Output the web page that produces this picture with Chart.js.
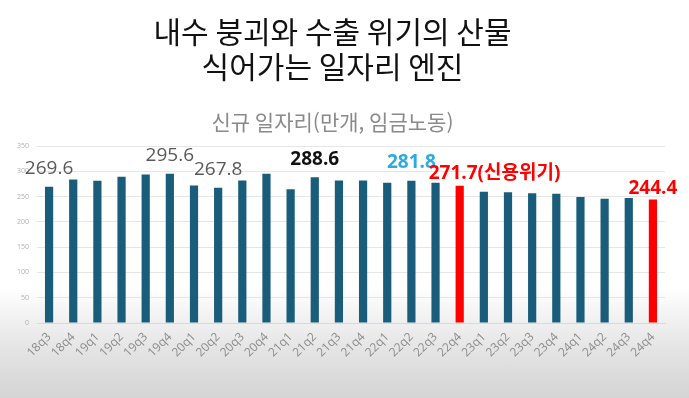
<!DOCTYPE html>
<html lang="ko">
<head>
<meta charset="utf-8">
<script src="https://cdn.jsdelivr.net/npm/chart.js@4.4.1/dist/chart.umd.min.js"></script>
<style>
  html, body { margin: 0; padding: 0; }
  body {
    width: 689px; height: 398px; overflow: hidden;
    background: linear-gradient(to bottom, #ffffff 0%, #ffffff 72%, #e4e4e4 88%, #d4d4d4 100%);
  }
  #wrap { position: relative; width: 689px; height: 398px; }
</style>
</head>
<body>
<div id="wrap"><canvas id="c"></canvas></div>
<script>
'use strict';
// 신규 일자리 (만개, 임금노동) by quarter.
const quarters = ['18q3','18q4','19q1','19q2','19q3','19q4','20q1','20q2','20q3','20q4',
  '21q1','21q2','21q3','21q4','22q1','22q2','22q3','22q4',
  '23q1','23q2','23q3','23q4','24q1','24q2','24q3','24q4'];
const jobs = [269.6, 284, 281.5, 289.4, 294, 295.6, 272.4, 267.8, 282, 295.3,
  264.6, 288.6, 282, 282, 277.6, 281.8, 277.6, 271.7,
  259.8, 258.7, 256.7, 256, 249.4, 246, 247.4, 244.4];
const redQuarters = ['22q4', '24q4'];
const yTicks = [0, 50, 100, 150, 200, 250, 300, 350];

// annotated values: which quarter, text, colour, bold
const noteQuarter = ['18q3', '19q4', '20q2', '21q2', '22q2', '22q4', '24q4'];
const noteText = ['269.6', '295.6', '267.8', '288.6', '281.8', '271.7(신용위기)', '244.4'];
const noteColor = ['#595959', '#595959', '#595959', '#111111', '#29abe2', '#ff0000', '#ff0000'];
const noteBold = [false, false, false, true, true, true, true];

const BLUE = '#1a5d7a', RED = '#ff0000';

const noteLabels = {
  id: 'noteLabels',
  afterDatasetsDraw(chart) {
    const ctx = chart.ctx, meta = chart.getDatasetMeta(0);
    ctx.save();
    ctx.textBaseline = 'middle';
    noteQuarter.forEach((q, i) => {
      const bar = meta.data[quarters.indexOf(q)];
      const bold = noteBold[i];
      ctx.font = (bold ? 'bold ' : '') + '19px "Open Sans", "Noto Sans CJK KR", sans-serif';
      ctx.fillStyle = noteColor[i];
      const txt = noteText[i];
      const red = noteColor[i] === RED;
      if (txt.indexOf('(') > 0) {
        ctx.textAlign = 'left';
        ctx.fillText(txt, bar.x - 31, bar.y - 12);
      } else {
        ctx.textAlign = 'center';
        ctx.fillText(txt, bar.x, bar.y - (red ? 11 : 18));
      }
    });
    ctx.restore();
  }
};

new Chart(document.getElementById('c'), {
  type: 'bar',
  data: {
    labels: quarters,
    datasets: [{
      data: jobs,
      backgroundColor: quarters.map((q) => redQuarters.includes(q) ? RED : BLUE),
      categoryPercentage: 1,
      barPercentage: 0.34,
    }]
  },
  options: {
    responsive: true, maintainAspectRatio: false, animation: false,
    layout: { padding: { left: 0, right: 24, top: 0, bottom: 0 } },
    plugins: {
      legend: { display: false },
      tooltip: { enabled: false },
      title: {
        display: true,
        text: ['내수 붕괴와 수출 위기의 산물', '식어가는 일자리 엔진'],
        color: '#111',
        font: { family: '"Noto Sans CJK KR", sans-serif', size: 30, weight: 'normal', lineHeight: 1.167 },
        padding: { top: 14, bottom: 25 }
      },
      subtitle: {
        display: true,
        text: '신규 일자리(만개, 임금노동)',
        color: '#8a8a8a',
        font: { family: '"Noto Sans CJK KR", sans-serif', size: 21, weight: 'normal', lineHeight: 1.2 },
        padding: { top: 0, bottom: 12 }
      }
    },
    scales: {
      x: {
        grid: { display: false, drawTicks: false },
        border: { color: '#d9d9d9' },
        ticks: { color: '#8c8c8c', font: { family: '"Open Sans", sans-serif', size: 12 }, maxRotation: 45, minRotation: 45, padding: 7, autoSkip: false },
        afterFit(s) { s.height = 75; }
      },
      y: {
        min: 0, max: 350,
        afterBuildTicks(s) { s.ticks = yTicks.map((v) => ({ value: v })); },
        grid: { color: '#e6e6e6', drawTicks: false },
        border: { display: false },
        ticks: { color: '#b0b0b0', font: { family: '"Open Sans", sans-serif', size: 7 }, padding: 8 },
        afterFit(s) { s.width = 37; }
      }
    }
  },
  plugins: [noteLabels]
});
</script>
</body>
</html>
